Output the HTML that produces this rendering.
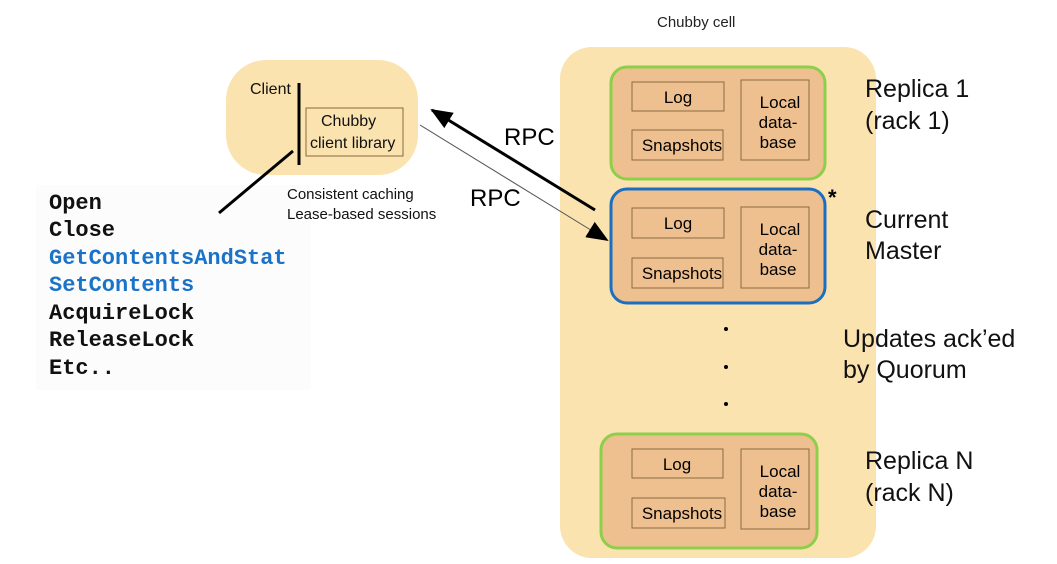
<!DOCTYPE html>
<html><head><meta charset="utf-8"><style>
html,body{margin:0;padding:0;background:#fff;}
svg{display:block;font-family:"Liberation Sans",sans-serif;}
.m{font-family:"Liberation Mono",monospace;font-weight:bold;font-size:22px;}
</style></head><body>
<svg width="1057" height="564" viewBox="0 0 1057 564" xmlns="http://www.w3.org/2000/svg">
<defs>
<marker id="ah2" markerWidth="22" markerHeight="18" refX="20" refY="9" orient="auto" markerUnits="userSpaceOnUse">
<path d="M0,0 L22,9 L0,18 z" fill="#000"/></marker>
</defs>
<rect x="36" y="185" width="275" height="205" fill="#fcfcfc"/>
<text x="657" y="27" font-size="15" fill="#222">Chubby cell</text>
<rect x="560" y="47" width="316" height="511" rx="32" fill="#fbe3b0"/>
<rect x="226" y="60" width="192" height="115" rx="40" fill="#fbe3b0"/>
<text x="250" y="94" font-size="16" fill="#111">Client</text>
<line x1="299" y1="83" x2="299" y2="165" stroke="#000" stroke-width="3"/>
<rect x="306" y="108" width="97" height="48" fill="none" stroke="#8a6a40" stroke-width="1"/>
<text x="321" y="126" font-size="16" fill="#111">Chubby</text>
<text x="310" y="148" font-size="16" fill="#111">client library</text>
<line x1="293" y1="151" x2="219" y2="213" stroke="#000" stroke-width="3"/>
<text x="287" y="199" font-size="15" fill="#111">Consistent caching</text>
<text x="287" y="219" font-size="15" fill="#111">Lease-based sessions</text>
<line x1="595" y1="210" x2="432" y2="110" stroke="#000" stroke-width="3" marker-end="url(#ah2)"/>
<line x1="420" y1="125" x2="607" y2="240" stroke="#555" stroke-width="1" marker-end="url(#ah2)"/>
<text x="504" y="145" font-size="24" fill="#000">RPC</text>
<text x="470" y="206" font-size="24" fill="#000">RPC</text>
<text class="m" x="49" y="209" fill="#111">Open</text>
<text class="m" x="49" y="236" fill="#111">Close</text>
<text class="m" x="49" y="264" fill="#1a73c8">GetContentsAndStat</text>
<text class="m" x="49" y="291" fill="#1a73c8">SetContents</text>
<text class="m" x="49" y="319" fill="#111">AcquireLock</text>
<text class="m" x="49" y="346" fill="#111">ReleaseLock</text>
<text class="m" x="49" y="374" fill="#111">Etc..</text>
<g>
<rect x="611" y="67" width="214" height="112" rx="16" fill="#eec08f" stroke="#8dcf4a" stroke-width="3"/>
<rect x="632" y="82" width="92" height="29" fill="none" stroke="#8a6a40"/>
<text x="678" y="103" font-size="17" text-anchor="middle">Log</text>
<rect x="632" y="130" width="91" height="30" fill="none" stroke="#8a6a40"/>
<text x="682" y="151" font-size="17" text-anchor="middle">Snapshots</text>
<rect x="741" y="80" width="68" height="80" fill="none" stroke="#8a6a40"/>
<text x="780" y="108" font-size="17" text-anchor="middle">Local</text>
<text x="778" y="128" font-size="17" text-anchor="middle">data-</text>
<text x="778" y="148" font-size="17" text-anchor="middle">base</text>
</g>
<g>
<rect x="611" y="189" width="214" height="114" rx="16" fill="#eec08f" stroke="#1c6fc0" stroke-width="3"/>
<rect x="632" y="208" width="92" height="30" fill="none" stroke="#8a6a40"/>
<text x="678" y="229" font-size="17" text-anchor="middle">Log</text>
<rect x="632" y="258" width="91" height="30" fill="none" stroke="#8a6a40"/>
<text x="682" y="279" font-size="17" text-anchor="middle">Snapshots</text>
<rect x="741" y="207" width="68" height="81" fill="none" stroke="#8a6a40"/>
<text x="780" y="235" font-size="17" text-anchor="middle">Local</text>
<text x="778" y="255" font-size="17" text-anchor="middle">data-</text>
<text x="778" y="275" font-size="17" text-anchor="middle">base</text>
<text x="828" y="205" font-size="22" font-weight="bold">*</text>
</g>
<g>
<rect x="601" y="434" width="216" height="114" rx="16" fill="#eec08f" stroke="#8dcf4a" stroke-width="3"/>
<rect x="632" y="449" width="91" height="29" fill="none" stroke="#8a6a40"/>
<text x="677" y="470" font-size="17" text-anchor="middle">Log</text>
<rect x="632" y="498" width="93" height="30" fill="none" stroke="#8a6a40"/>
<text x="682" y="519" font-size="17" text-anchor="middle">Snapshots</text>
<rect x="741" y="449" width="68" height="80" fill="none" stroke="#8a6a40"/>
<text x="780" y="477" font-size="17" text-anchor="middle">Local</text>
<text x="778" y="497" font-size="17" text-anchor="middle">data-</text>
<text x="778" y="517" font-size="17" text-anchor="middle">base</text>
</g>
<circle cx="726" cy="329" r="2" fill="#000"/>
<circle cx="726" cy="367" r="2" fill="#000"/>
<circle cx="726" cy="404" r="2" fill="#000"/>
<g font-size="25" fill="#111">
<text x="865" y="97">Replica 1</text>
<text x="865" y="129">(rack 1)</text>
<text x="865" y="228">Current</text>
<text x="865" y="259">Master</text>
<text x="843" y="347">Updates ack’ed</text>
<text x="843" y="378">by Quorum</text>
<text x="865" y="469">Replica N</text>
<text x="865" y="501">(rack N)</text>
</g>
</svg>
</body></html>
